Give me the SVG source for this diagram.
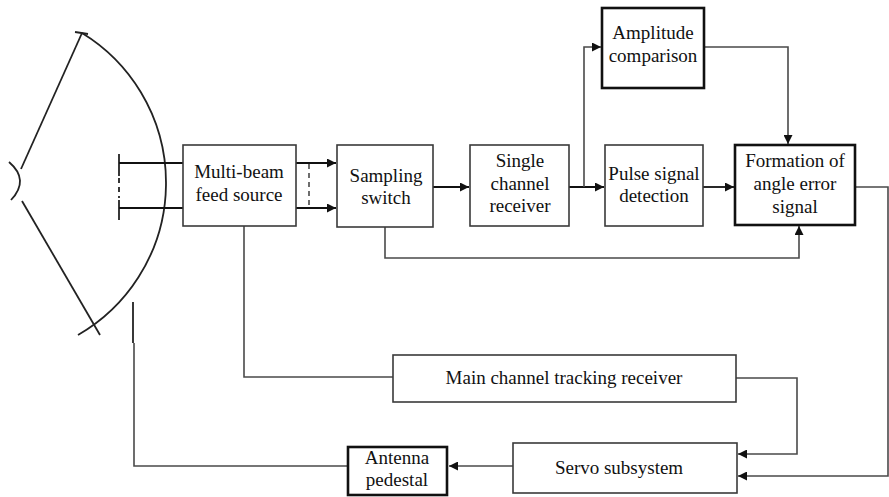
<svg xmlns="http://www.w3.org/2000/svg" width="889" height="497" viewBox="0 0 889 497">
  <style>
    .box { fill: #fff; stroke: #3a3a3a; stroke-width: 1.6; }
    .box.bold { stroke: #111; stroke-width: 2.6; }
    .wire { fill: none; stroke: #4a4a4a; stroke-width: 1.6; }
    .wire.dark { stroke: #111; stroke-width: 1.8; }
    .arr { marker-end: url(#head); }
    .dish { fill: none; stroke: #222; stroke-width: 1.8; }
  </style>
  <defs>
    <marker id="head" viewBox="0 0 10 10" refX="10" refY="5" markerWidth="11" markerHeight="9" markerUnits="userSpaceOnUse" orient="auto">
      <path d="M0,0 L10,5 L0,10 Z" fill="#111"/>
    </marker>
  </defs>

  <!-- antenna reflector and feed horn -->
  <g id="antenna">
    <path class="dish" d="M82,33 A175.6,175.6 0 0 1 78,335"/>
    <path class="dish" d="M75,32 L88,34"/>
    <path class="dish" d="M82,33 L21,169"/>
    <path class="dish" d="M22,201 L100,335"/>
    <path class="dish" d="M9,162 Q30,180 11,200"/>
    <!-- feed array -->
    <path class="dish" stroke-width="2.4" d="M119,154 V176"/>
    <path class="dish" stroke-width="2.4" stroke-dasharray="5,4" d="M119,178 V198"/>
    <path class="dish" stroke-width="2.4" d="M119,200 V220"/>
    <!-- pedestal mast -->
    <path class="dish" stroke-width="2.6" d="M133,302 V343"/>
  </g>

  <!-- connectors -->
  <g id="connectors">
    <path class="wire dark" d="M119,163 H183"/>
    <path class="wire dark" d="M119,208 H183"/>
    <path class="wire dark arr" d="M296,163 H336"/>
    <path class="wire dark arr" d="M296,208 H336"/>
    <path class="wire" stroke="#777" stroke-dasharray="5,4" d="M309,164 V207"/>
    <path class="wire dark arr" d="M433,187 H469"/>
    <path class="wire dark arr" d="M569,187 H604"/>
    <path class="wire arr" d="M584,187 V47 H601"/>
    <path class="wire arr" d="M704,47 H788 V144"/>
    <path class="wire dark arr" d="M703,187 H734"/>
    <path class="wire arr" d="M385,227 V258 H799 V226"/>
    <path class="wire arr" d="M855,187 H888 V476 H738"/>
    <path class="wire" d="M244,226 V377 H393"/>
    <path class="wire arr" d="M736,378 H797 V454 H738"/>
    <path class="wire arr" d="M513,466 H449"/>
    <path class="wire" d="M348,466 H134 V343"/>
  </g>

  <g font-family="'Liberation Serif', 'Times New Roman', Times, serif" font-size="19" fill="#111" text-anchor="middle">
    <g id="feed-source">
      <rect class="box" x="183" y="145" width="113" height="81"/>
      <text x="239" y="178">Multi-beam</text>
      <text x="239" y="201">feed source</text>
    </g>

    <g id="sampling-switch">
      <rect class="box" x="337" y="145" width="96" height="82"/>
      <text x="386" y="182">Sampling</text>
      <text x="386" y="204">switch</text>
    </g>

    <g id="single-channel-receiver">
      <rect class="box" x="470" y="145" width="99" height="81"/>
      <text x="520" y="167">Single</text>
      <text x="520" y="190">channel</text>
      <text x="520" y="212">receiver</text>
    </g>

    <g id="amplitude-comparison">
      <rect class="box bold" x="602" y="8" width="102" height="80"/>
      <text x="653" y="39">Amplitude</text>
      <text x="653" y="62">comparison</text>
    </g>

    <g id="pulse-signal-detection">
      <rect class="box" x="605" y="145" width="98" height="81"/>
      <text x="654" y="180">Pulse signal</text>
      <text x="654" y="202">detection</text>
    </g>

    <g id="angle-error-formation">
      <rect class="box bold" x="735" y="145" width="120" height="80"/>
      <text x="795" y="167">Formation of</text>
      <text x="795" y="190">angle error</text>
      <text x="795" y="213">signal</text>
    </g>

    <g id="main-channel-tracking-receiver">
      <rect class="box" x="393" y="355" width="343" height="47"/>
      <text x="564" y="384">Main channel tracking receiver</text>
    </g>

    <g id="servo-subsystem">
      <rect class="box" x="513" y="443" width="224" height="50"/>
      <text x="619" y="474">Servo subsystem</text>
    </g>

    <g id="antenna-pedestal">
      <rect class="box bold" x="348" y="447" width="99" height="48"/>
      <text x="397" y="464">Antenna</text>
      <text x="397" y="486">pedestal</text>
    </g>
  </g>
</svg>
